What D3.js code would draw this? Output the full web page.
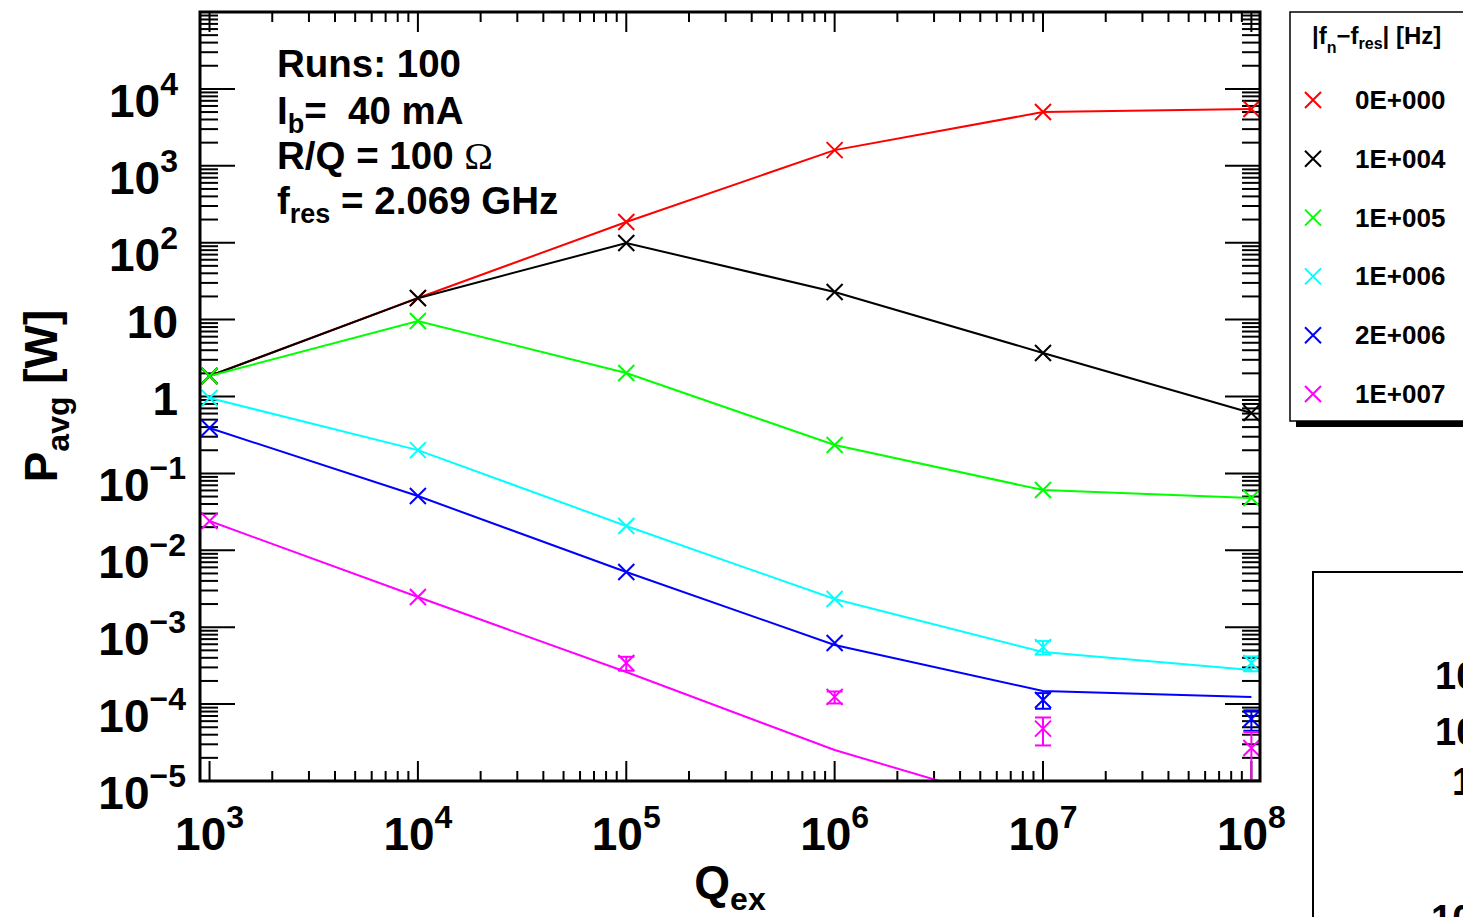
<!DOCTYPE html>
<html><head><meta charset="utf-8">
<script src="https://cdn.jsdelivr.net/npm/d3@7"></script>
<style>
body{margin:0;background:#fff;overflow:hidden;}
svg{display:block;}
text{font-family:"Liberation Sans",Arial,Helvetica,sans-serif;font-weight:bold;fill:#000;white-space:pre;}
</style>
</head><body><svg id="c" width="1463" height="917"></svg>
<script>
// ---------- data ----------
const qex = [1e3, 1e4, 1e5, 1e6, 1e7, 1e8];
const seriesNames = ["0E+000", "1E+004", "1E+005", "1E+006", "2E+006", "1E+007"];
const seriesColors = ["#ff0000", "#000000", "#00ff00", "#00ffff", "#0000ff", "#ff00ff"];

// simulated points (markers)
const ptRed     = [1.85, 19.1, 186, 1600, 5000, 5480];
const ptBlack   = [1.85, 19.0, 99, 22.9, 3.68, 0.61];
const ptGreen   = [1.85, 9.6, 2.02, 0.234, 0.0608, 0.0479];
const ptCyan    = [0.955, 0.201, 0.0207, 0.00233, 5.5e-4, 3.42e-4];
const ptBlue    = [0.389, 0.0508, 0.00523, 6.24e-4, 1.13e-4, 6.4e-5];
const ptMagenta = [0.024, 0.00247, 3.42e-4, 1.24e-4, 4.8e-5, 2.68e-5];

// error bars of the points
const errRed     = [0, 0, 0, 0, 0, 0];
const errBlack   = [0, 0, 0, 0, 0, 0];
const errGreen   = [0, 0, 0, 0, 0, 0];
const errCyan    = [0, 0, 0, 0, 1.1e-4, 7.5e-5];
const errBlue    = [0, 0, 0, 0, 2.6e-5, 1.9e-5];
const errMagenta = [0, 0, 7e-5, 2.2e-5, 1.9e-5, 1.66e-5];

// curves (lines)
const lnRed     = [1.85, 19.1, 186, 1600, 5000, 5480];
const lnBlack   = [1.85, 19.0, 99, 22.9, 3.68, 0.61];
const lnGreen   = [1.85, 9.6, 2.02, 0.234, 0.0608, 0.0479];
const lnCyan    = [0.955, 0.201, 0.0207, 0.00233, 4.75e-4, 2.77e-4];
const lnBlue    = [0.389, 0.0508, 0.00523, 5.87e-4, 1.48e-4, 1.24e-4];
const lnMagenta = [0.024, 0.00247, 2.61e-4, 2.53e-5, 4.0e-6, 2.0e-6];

const points = [ptRed, ptBlack, ptGreen, ptCyan, ptBlue, ptMagenta];
const errors = [errRed, errBlack, errGreen, errCyan, errBlue, errMagenta];
const curves = [lnRed, lnBlack, lnGreen, lnCyan, lnBlue, lnMagenta];

const xTickExp = [3, 4, 5, 6, 7, 8];
const yTickExp = [-5, -4, -3, -2, -1, 0, 1, 2, 3, 4];

// ---------- layout ----------
const L = 200, R = 1260, T = 12, B = 781;
const svg = d3.select("#c");
const x = d3.scaleLog().domain([900, 1.1e8]).range([L, R]);
const y = d3.scaleLog().domain([1e-5, 1e5]).range([B, T]);

svg.append("defs").append("clipPath").attr("id", "clip")
  .append("rect").attr("x", L).attr("y", T).attr("width", R - L).attr("height", B - T);

// ---------- ticks ----------
const tickG = svg.append("g").attr("stroke", "#000").attr("stroke-width", 2);
const xMinor = [], yMinor = [];
for (let k = 2; k <= 8; k++) for (let m = 2; m <= 9; m++) { const v = m * Math.pow(10, k); if (v > 900 && v < 1.1e8) xMinor.push(v); }
for (let k = -5; k <= 4; k++) for (let m = 2; m <= 9; m++) yMinor.push(m * Math.pow(10, k));
const xMajor = xTickExp.map(e => Math.pow(10, e));
const yMajor = d3.range(-5, 6).map(e => Math.pow(10, e));

function xt(vals, len) {
  vals.forEach(v => {
    const px = x(v);
    tickG.append("line").attr("x1", px).attr("x2", px).attr("y1", B).attr("y2", B - len);
    tickG.append("line").attr("x1", px).attr("x2", px).attr("y1", T).attr("y2", T + len);
  });
}
function yt(vals, len) {
  vals.forEach(v => {
    const py = y(v);
    tickG.append("line").attr("x1", L).attr("x2", L + len).attr("y1", py).attr("y2", py);
    tickG.append("line").attr("x1", R).attr("x2", R - len).attr("y1", py).attr("y2", py);
  });
}
xt(xMinor, 10); xt(xMajor, 20);
yt(yMinor, 18); yt(yMajor, 35);

// ---------- curves ----------
const plotG = svg.append("g").attr("clip-path", "url(#clip)");
const line = d3.line().x(d => x(d[0])).y(d => y(d[1]));
curves.forEach((c, i) => {
  plotG.append("path").datum(qex.map((q, j) => [q, c[j]]))
    .attr("d", line).attr("fill", "none").attr("stroke", seriesColors[i]).attr("stroke-width", 2);
});

// ---------- markers with error bars ----------
const ms = 8;
function drawX(g, cx, cy, col, s) {
  g.append("path").attr("d", `M${cx - s},${cy - s}L${cx + s},${cy + s}M${cx - s},${cy + s}L${cx + s},${cy - s}`)
    .attr("stroke", col).attr("stroke-width", 2).attr("fill", "none");
}
points.forEach((p, i) => {
  const col = seriesColors[i];
  qex.forEach((q, j) => {
    const v = p[j], e = errors[i][j];
    const cx = x(q), cy = y(v);
    if (e > 0) {
      const yt0 = y(v + e), yb0 = v - e > 0 ? y(v - e) : B + 10;
      plotG.append("line").attr("x1", cx).attr("x2", cx).attr("y1", yt0).attr("y2", yb0).attr("stroke", col).attr("stroke-width", 2);
      plotG.append("line").attr("x1", cx - ms).attr("x2", cx + ms).attr("y1", yt0).attr("y2", yt0).attr("stroke", col).attr("stroke-width", 2);
      plotG.append("line").attr("x1", cx - ms).attr("x2", cx + ms).attr("y1", yb0).attr("y2", yb0).attr("stroke", col).attr("stroke-width", 2);
    }
    if (v > 1e-5) drawX(plotG, cx, cy, col, ms);
  });
});

// ---------- frame ----------
svg.append("rect").attr("x", L).attr("y", T).attr("width", R - L).attr("height", B - T)
  .attr("fill", "none").attr("stroke", "#000").attr("stroke-width", 3);

// ---------- tick labels ----------
const supStr = e => String(e).replace("-", "\u2212");
xTickExp.forEach(e => {
  const t = svg.append("text").attr("x", x(Math.pow(10, e))).attr("y", 850)
    .attr("text-anchor", "middle").attr("font-size", 46);
  t.append("tspan").text("10");
  t.append("tspan").attr("font-size", 32).attr("dy", -22).text(supStr(e));
});
yTickExp.forEach(e => {
  const py = y(Math.pow(10, e));
  if (e === 0 || e === 1) {
    svg.append("text").attr("x", 178).attr("y", py + 18).attr("text-anchor", "end")
      .attr("font-size", 46).text(e === 0 ? "1" : "10");
  } else {
    const t = svg.append("text").attr("x", e < 0 ? 186 : 178).attr("y", py + 28)
      .attr("text-anchor", "end").attr("font-size", 46);
    t.append("tspan").text("10");
    t.append("tspan").attr("font-size", 32).attr("dy", -22).text(supStr(e));
  }
});

// ---------- axis titles ----------
const yl = svg.append("text").attr("transform", "translate(57,396) rotate(-90)")
  .attr("text-anchor", "middle").attr("font-size", 46);
yl.append("tspan").text("P");
yl.append("tspan").attr("font-size", 32).attr("dy", 12).text("avg");
yl.append("tspan").attr("dy", -12).text(" [W]");

const xl = svg.append("text").attr("x", 730).attr("y", 898).attr("text-anchor", "middle").attr("font-size", 46);
xl.append("tspan").text("Q");
xl.append("tspan").attr("font-size", 32).attr("dy", 12).text("ex");

// ---------- info text ----------
const fs = 38.5, sfs = 27;
svg.append("text").attr("x", 277).attr("y", 77).attr("font-size", fs).text("Runs: 100");
const t2 = svg.append("text").attr("x", 277).attr("y", 124).attr("font-size", fs);
t2.append("tspan").text("I");
t2.append("tspan").attr("font-size", sfs).attr("dy", 9).text("b");
t2.append("tspan").attr("dy", -9).text("=  40 mA");
const t3 = svg.append("text").attr("x", 277).attr("y", 169).attr("font-size", fs);
t3.append("tspan").text("R/Q = 100 ");
t3.append("tspan").attr("font-family", "'Liberation Serif','DejaVu Serif',serif").attr("font-weight", "normal").text("\u03A9");
const t4 = svg.append("text").attr("x", 277).attr("y", 214).attr("font-size", fs);
t4.append("tspan").text("f");
t4.append("tspan").attr("font-size", sfs).attr("dy", 9).text("res");
t4.append("tspan").attr("dy", -9).text(" = 2.069 GHz");

// ---------- legend ----------
const lg = svg.append("g");
lg.append("rect").attr("x", 1296).attr("y", 18).attr("width", 220).attr("height", 409).attr("fill", "#000");
lg.append("rect").attr("x", 1290).attr("y", 12).attr("width", 220).attr("height", 409)
  .attr("fill", "#fff").attr("stroke", "#000").attr("stroke-width", 1.5);
const lt = lg.append("text").attr("x", 1312).attr("y", 44).attr("font-size", 24);
lt.append("tspan").text("|f");
lt.append("tspan").attr("font-size", 16).attr("dy", 9).text("n");
lt.append("tspan").attr("dy", -9).text("\u2212f");
lt.append("tspan").attr("font-size", 16).attr("dy", 5).text("res");
lt.append("tspan").attr("dy", -5).text("| [Hz]");
seriesNames.forEach((n, i) => {
  const cy = 100 + i * 58.8;
  drawX(lg, 1313, cy, seriesColors[i], 8);
  lg.append("text").attr("x", 1355).attr("y", cy + 9).attr("font-size", 26).text(n);
});

// ---------- partial neighbouring pad ----------
const pg = svg.append("g");
pg.append("rect").attr("x", 1313).attr("y", 572).attr("width", 220).attr("height", 400)
  .attr("fill", "#fff").attr("stroke", "#000").attr("stroke-width", 2);
pg.append("text").attr("x", 1435).attr("y", 689).attr("font-size", 38).text("10");
pg.append("text").attr("x", 1435).attr("y", 745).attr("font-size", 38).text("10");
pg.append("text").attr("x", 1452).attr("y", 795).attr("font-size", 38).text("1");
pg.append("text").attr("x", 1431).attr("y", 932).attr("font-size", 38).text("10");
</script>
</body></html>
